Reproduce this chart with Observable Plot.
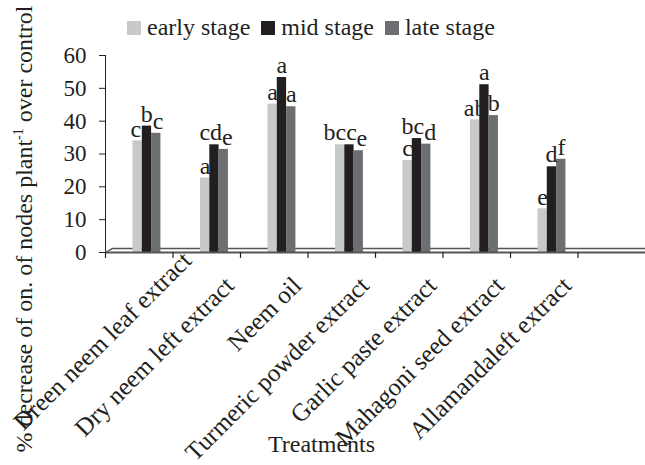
<!DOCTYPE html>
<html><head><meta charset="utf-8">
<script src="https://cdn.jsdelivr.net/npm/d3@7"></script>
<script src="https://cdn.jsdelivr.net/npm/@observablehq/plot@0.6"></script>
<style>
body{margin:0;background:#fff;}
#wrap, #wrap *{font-family:"Liberation Serif","Times New Roman",serif !important;}
#wrap{position:relative;width:645px;height:465px;color:#231f20;}
#legend{position:absolute;top:15px;left:127px;font-size:24px;line-height:24px;white-space:nowrap;}
.sw{display:inline-block;width:14px;height:14px;vertical-align:baseline;margin-right:6px;}
.item{margin-right:11px;}
</style></head><body>
<div id="wrap"><div id="chart"></div><div id="legend"></div></div>
<script>
const treatments = ["Dreen neem leaf extract","Dry neem left extract","Neem oil","Turmeric powder extract","Garlic paste extract","Mahagoni seed extract","Allamandaleft extract"];
const stages = ["early stage","mid stage","late stage"];
const early = [34.0, 22.7, 45.2, 32.8, 28.0, 40.4, 13.3];
const mid   = [38.5, 32.8, 53.3, 32.8, 34.7, 51.1, 26.1];
const late  = [36.3, 31.4, 44.4, 31.0, 33.0, 41.7, 28.4];
const earlyLetters = ["c","a","a","bc","c","ab","e"];
const midLetters   = ["b","cd","a","c","bc","a","d"];
const lateLetters  = ["c","e","a","e","d","b","f"];
const yTicks = [0,10,20,30,40,50,60];
const yLabel = "% decrease of on. of nodes plant-1 over control";
const xLabel = "Treatments";
const colors = ["#c8c9cb","#231f20","#6d6e71"];

const nBands = treatments.length + 1;   // one empty band at the right
const barStart = 0.407, barW = 0.138;   // bar layout inside a band
const depth = 0.099, floorH = 1.2;      // pseudo-3D floor offset

const seriesVals = [early, mid, late];
const seriesLet = [earlyLetters, midLetters, lateLetters];
const rows = treatments.flatMap((t,i) => stages.map((s,k) => ({
  t, i, k, stage: s, value: seriesVals[k][i], letter: seriesLet[k][i],
  x1: i + barStart + k*barW, x2: i + barStart + (k+1)*barW
})));

const ink = "#231f20", lineC = "#555555";
const FF = '"Liberation Serif","Times New Roman",serif';
const chart = Plot.plot({
  width: 645, height: 465,
  marginLeft: 105, marginRight: 0, marginTop: 55, marginBottom: 213,
  style: {fontFamily: FF, fontSize: "23px", color: ink, background: "#fff"},
  x: {domain: [0, nBands], axis: null},
  y: {domain: [0, 60], ticks: yTicks, tickSize: 6, tickPadding: 13, label: null, line: true},
  color: {domain: stages, range: colors},
  marks: [
    Plot.ruleY([floorH], {x1: depth, x2: nBands, stroke: lineC, strokeWidth: 1.4}),
    Plot.link([0], {x1: 0, y1: 0, x2: depth, y2: floorH, stroke: lineC, strokeWidth: 1.4}),
    Plot.rectY(rows, {x1: "x1", x2: "x2", y1: 0, y2: "value", fill: "stage"}),
    Plot.ruleY([0], {x1: 0, x2: nBands, stroke: lineC, strokeWidth: 1.8}),
    Plot.ruleX(d3.range(0, nBands), {y1: 0, y2: -1.8, stroke: ink, strokeWidth: 1.2}),
    Plot.text(rows, {x: d => (d.x1 + d.x2)/2, y: "value", text: "letter", dy: -12, fontSize: 24, fill: ink, fontFamily: FF}),
    Plot.text(treatments, {x: (d,i) => i + 0.5, y: 0, text: d => d, rotate: -45, textAnchor: "end", dx: 23, dy: 29, fontSize: 25, fill: ink, fontFamily: FF}),
    Plot.text([yLabel], {frameAnchor: "left", text: d => d, rotate: -90, textAnchor: "middle", dx: -81, dy: 75, fontSize: 24, fill: ink, fontFamily: FF}),
    Plot.text([xLabel], {frameAnchor: "bottom", text: d => d, dx: -54, dy: 199, fontSize: 24, fill: ink, fontFamily: FF})
  ]
});
document.getElementById("chart").appendChild(chart);

// legend
const lg = d3.select("#legend");
stages.forEach((s,k) => {
  const it = lg.append("span").attr("class","item");
  it.append("span").attr("class","sw").style("background", colors[k]);
  it.append("span").text(s);
});

const allTexts = d3.select(chart).selectAll("text").nodes();
const letterEls = allTexts.filter(el => el.parentNode && el.parentNode.childNodes.length === rows.length);
const xLabelEls = allTexts.filter(el => treatments.includes(el.textContent));
const yLabelEls = allTexts.filter(el => el.textContent === yLabel);

// superscript in y label
yLabelEls.forEach(el => {
  const sel = d3.select(el);
  sel.text(null);
  sel.append("tspan").text("% decrease of on. of nodes plant");
  sel.append("tspan").attr("font-size", 14).attr("dy", -9).text("-1");
  sel.append("tspan").attr("dy", 9).text(" over control");
});

// keep long rotated tick labels inside the picture (shift along their direction)
const svgBox = chart.getBoundingClientRect();
xLabelEls.forEach(el => {
  const r = el.getBoundingClientRect();
  const d = 8 - (r.left - svgBox.left);
  if (d > 0) el.setAttribute("transform", `translate(${d},${-d}) ` + (el.getAttribute("transform") || ""));
});

// resolve overlapping significance letters inside each group (push apart horizontally)
if (letterEls.length === rows.length) {
  const shifts = letterEls.map(() => 0);
  const R = letterEls.map(el => el.getBoundingClientRect());
  for (let i = 0; i < treatments.length; i++) {
    const idx = [0,1,2].map(k => i*3 + k);
    for (let it = 0; it < 6; it++) {
      for (let a = 0; a < 3; a++) for (let b = a+1; b < 3; b++) {
        const A = R[idx[a]], B = R[idx[b]];
        if (Math.abs(A.bottom - B.bottom) >= 15) continue;
        const aL = A.left + shifts[idx[a]], aR = A.right + shifts[idx[a]];
        const bL = B.left + shifts[idx[b]], bR = B.right + shifts[idx[b]];
        const ov = Math.min(aR, bR) - Math.max(aL, bL);
        if (ov > 0.5) { shifts[idx[a]] -= ov/2; shifts[idx[b]] += ov/2; }
      }
    }
  }
  letterEls.forEach((el, j) => {
    if (shifts[j]) el.setAttribute("transform", `translate(${shifts[j]},0) ` + (el.getAttribute("transform") || ""));
  });
}
</script>
</body></html>
